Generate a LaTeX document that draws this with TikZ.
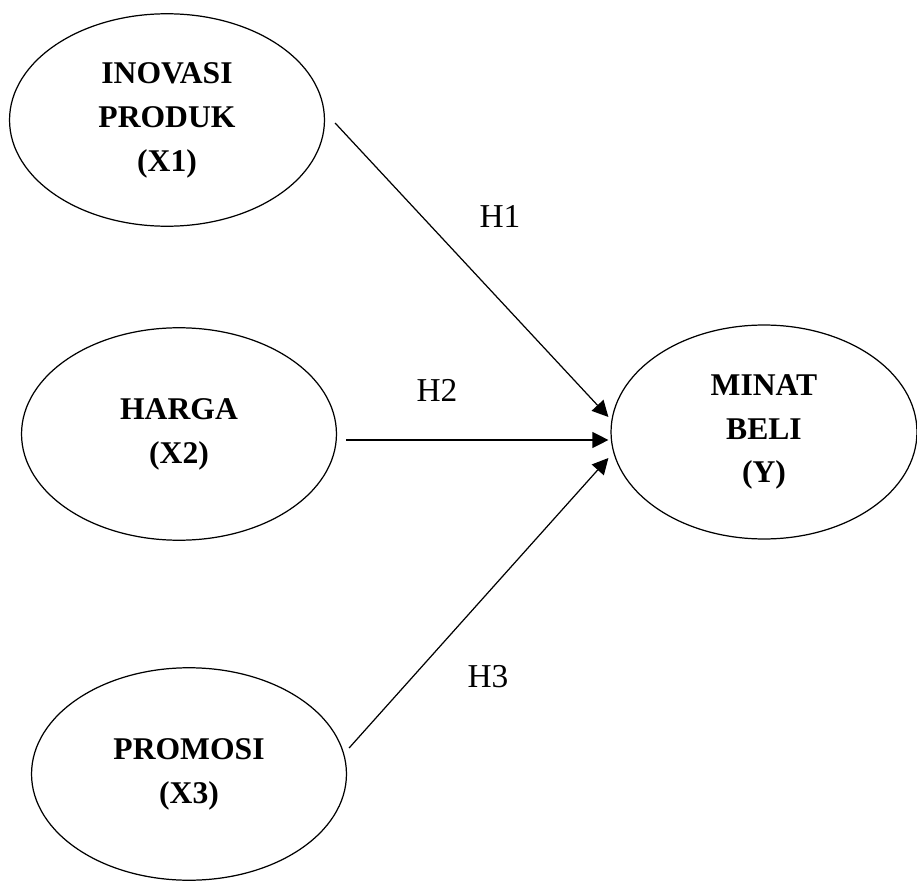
\documentclass[tikz,border=0pt]{standalone}
\usepackage{fontspec}
\setmainfont{Liberation Serif}
\usetikzlibrary{arrows.meta,shapes.geometric}

\begin{document}
\begin{tikzpicture}[x=0.02cm, y=-0.02cm,
  latent/.style={ellipse, draw, line width=0.7pt, inner sep=0pt,
    minimum width=6.3cm, minimum height=4.25cm, align=center,
    font=\fontsize{18}{25}\selectfont\bfseries},
  hyp/.style={font=\fontsize{19}{22}\selectfont},
  path/.style={line width=0.7pt, -{Triangle[length=0.32cm,width=0.32cm]}}]
  \useasboundingbox (0,0) rectangle (917,882);

  % Exogenous variables
  \node[latent] (x1) at (167,120) {INOVASI\\PRODUK\\(X1)};
  \node[latent] (x2) at (179,434) {HARGA\\(X2)};
  \node[latent] (x3) at (189,774) {PROMOSI\\(X3)};

  % Endogenous variable
  \node[latent, minimum width=6.12cm, minimum height=4.28cm] (y) at (764,432) {MINAT\\BELI\\(Y)};

  % Hypothesis paths
  \draw[path] ([shift={(10,3)}]x1.east) -- ([shift={(-2,-15)}]y.west);
  \draw[path] ([shift={(9,6)}]x2.east) -- ([shift={(-2,8)}]y.west);
  \draw[path] ([shift={(2,-26)}]x3.east) -- ([shift={(-2,26)}]y.west);

  % Labels
  \node[hyp] (h1) at (500,216) {H1};
  \node[hyp] (h2) at (437,390) {H2};
  \node[hyp] (h3) at (488,677) {H3};
\end{tikzpicture}
\end{document}
